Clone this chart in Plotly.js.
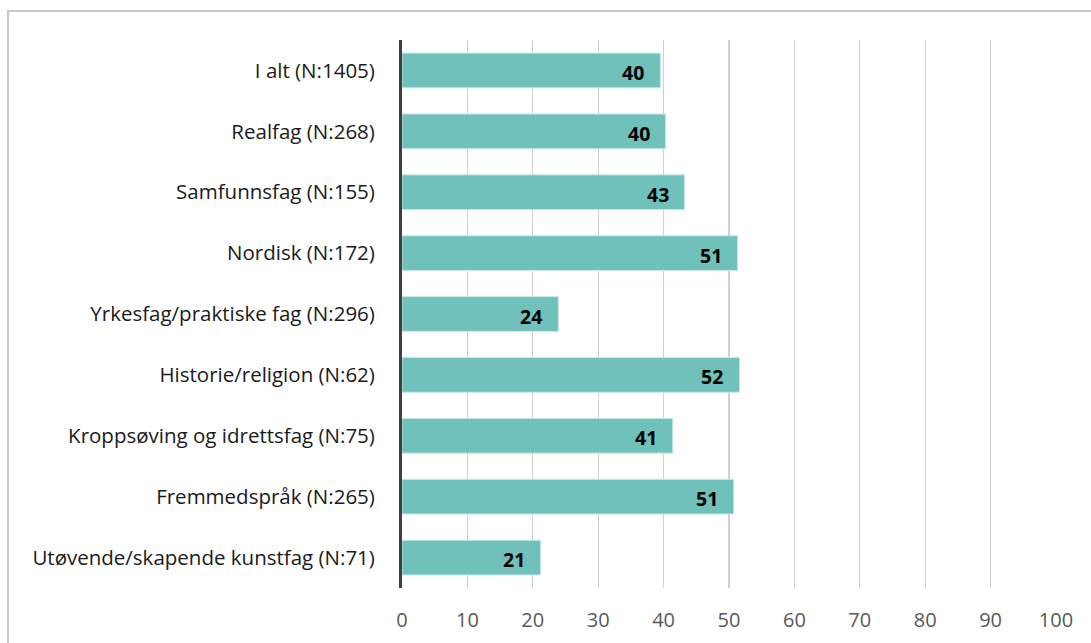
<!DOCTYPE html>
<html>
<head>
<meta charset="utf-8">
<script src="https://cdn.plot.ly/plotly-3.0.1.min.js"></script>
<style>
html,body{margin:0;padding:0;background:#fff;}
#chart{width:1091px;height:643px;}
#frame{position:absolute;left:7px;top:10px;width:1200px;height:700px;border-left:2px solid #c8c8c8;border-top:2px solid #c8c8c8;pointer-events:none;}
</style>
</head>
<body>
<div id="chart"></div>
<div id="frame"></div>
<script>
var categories = [
  "I alt (N:1405)",
  "Realfag (N:268)",
  "Samfunnsfag (N:155)",
  "Nordisk (N:172)",
  "Yrkesfag/praktiske fag (N:296)",
  "Historie/religion (N:62)",
  "Kroppsøving og idrettsfag (N:75)",
  "Fremmedspråk (N:265)",
  "Utøvende/skapende kunstfag (N:71)"
];
var values = [39.5, 40.3, 43.2, 51.3, 23.9, 51.6, 41.4, 50.7, 21.2];
var xTicks = [0, 10, 20, 30, 40, 50, 60, 70, 80, 90, 100];

var trace = {
  type: "bar",
  orientation: "h",
  y: categories,
  x: values,
  marker: {color: "#70c0bb", line: {color: "#c8e8e5", width: 1}},
  hoverinfo: "x+y"
};

var annotations = values.map(function(v, i){
  return {
    x: v, y: categories[i], xref: "x", yref: "y",
    text: String(Math.round(v)),
    showarrow: false, xanchor: "right", xshift: -14, yshift: -2,
    font: {family: "'Open Sans', sans-serif", size: 19.5, color: "#000", weight: "bold"}
  };
});

var layout = {
  width: 1091, height: 643,
  margin: {l: 401.5, r: 34.5, t: 40, b: 55},
  paper_bgcolor: "#fff", plot_bgcolor: "#fff",
  showlegend: false,
  bargap: 0.43,
  font: {family: "'Open Sans', sans-serif", size: 20.5, color: "#262626"},
  xaxis: {
    range: [0, 100], tickvals: xTicks, ticktext: xTicks.map(String),
    showgrid: true, gridcolor: "#d0d0d0", gridwidth: 1.3,
    zeroline: false, showline: false, ticks: "",
    tickfont: {size: 20, color: "#595959"},
    ticklabelstandoff: 18, fixedrange: true
  },
  yaxis: {
    autorange: "reversed", type: "category",
    showgrid: false, zeroline: false,
    showline: true, linecolor: "#404040", linewidth: 3,
    ticks: "", tickfont: {size: 20.5, color: "#1a1a1a"},
    ticklabelstandoff: 20, fixedrange: true
  },
  annotations: annotations
};

Plotly.newPlot("chart", [trace], layout, {displayModeBar: false, staticPlot: true});
</script>
</body>
</html>
